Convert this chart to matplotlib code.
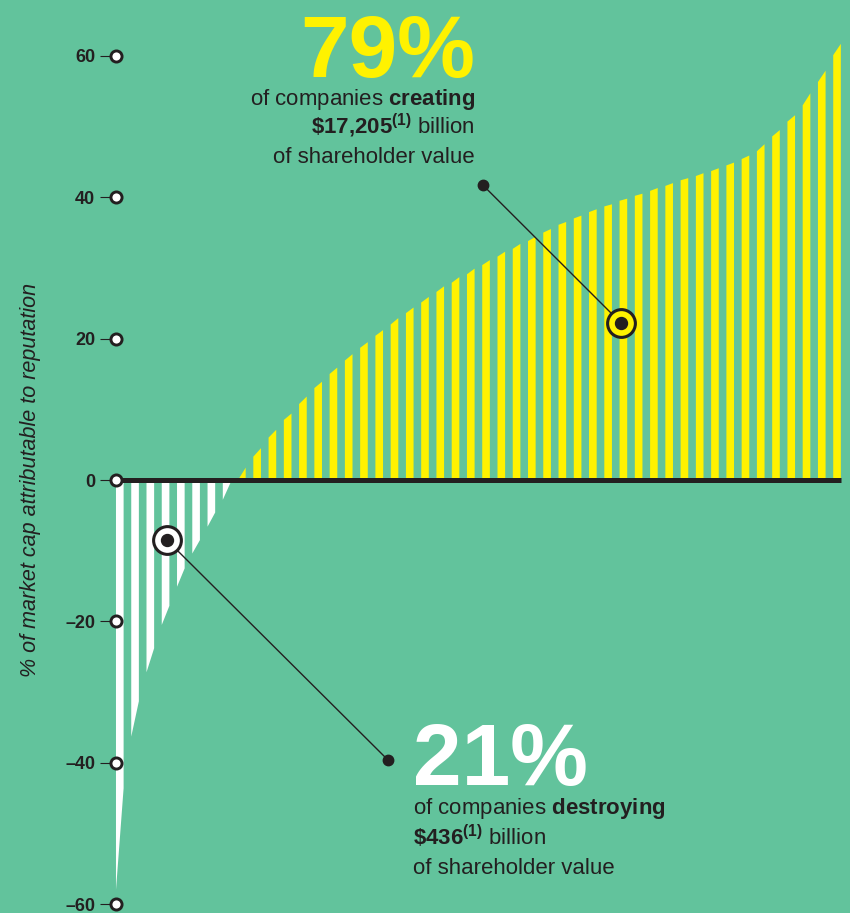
import matplotlib
matplotlib.use("Agg")
import matplotlib.pyplot as plt

plt.rcParams["font.family"] = ["Liberation Sans", "DejaVu Sans"]
plt.rcParams["mathtext.fontset"] = "custom"
plt.rcParams["mathtext.rm"] = "Liberation Sans"
plt.rcParams["mathtext.bf"] = "Liberation Sans:bold"
plt.rcParams["mathtext.it"] = "Liberation Sans:italic"

# ---- data ----
# companies destroying value: bar bottom at the left edge and at the right edge of each bar
neg_left = [-58.0, -36.3, -27.2, -20.5, -15.1, -10.4, -6.6, -2.8]
neg_right = [-43.6, -31.3, -23.8, -17.8, -12.5, -8.5, -4.6, -0.4]
# companies creating value: bar top at the left edge and at the right edge of each bar
pos_left = [0.0, 3.3, 6.0, 8.5, 10.75, 13.0, 15.0, 16.9, 18.7, 20.4,
            22.0, 23.6, 25.1, 26.6, 27.9, 29.1, 30.4, 31.6, 32.7, 33.8,
            35.0, 36.1, 37.0, 37.9, 38.7, 39.5, 40.2, 40.9, 41.6, 42.4,
            43.0, 43.7, 44.5, 45.4, 46.5, 48.6, 50.7, 53.0, 56.3, 60.1]
pos_right = [1.75, 4.5, 7.1, 9.4, 11.8, 13.9, 15.9, 17.8, 19.5, 21.2,
             22.9, 24.4, 25.9, 27.4, 28.7, 29.9, 31.1, 32.3, 33.4, 34.4,
             35.5, 36.5, 37.4, 38.3, 39.0, 39.8, 40.5, 41.3, 42.0, 42.7,
             43.4, 44.1, 44.9, 45.9, 47.5, 49.5, 51.6, 54.7, 57.9, 61.7]
y_ticks = [60, 40, 20, 0, -20, -40, -60]
y_tick_labels = ["60", "40", "20", "0", "\u201320", "\u201340", "\u201360"]
y_label = "% of market cap attributable to reputation"

creating_pct = "79%"
creating_lines = [r"of companies $\mathbf{creating}$",
                  r"$\mathbf{\$17{,}205^{(1)}}$ billion",
                  "of shareholder value"]
destroying_pct = "21%"
destroying_lines = [r"of companies $\mathbf{destroying}$",
                    r"$\mathbf{\$436^{(1)}}$ billion",
                    "of shareholder value"]

# ---- style ----
BG = "#62C39C"
YELLOW = "#FFF200"
DARK = "#231F20"
BAR_W = 0.5

fig = plt.figure(figsize=(8.5, 9.13), dpi=100, facecolor=BG)
ax = fig.add_axes([0, 0, 1, 1])
ax.set_facecolor(BG)
ax.set_xlim(-7.6, 48.1)
ax.set_ylim(-61.25, 67.9)

# bars with slanted ends
for i, (l, r) in enumerate(zip(neg_left, neg_right)):
    ax.fill([i, i, i + BAR_W, i + BAR_W], [0, l, r, 0], color="white", lw=0, zorder=2)
n_neg = len(neg_left)
for j, (l, r) in enumerate(zip(pos_left, pos_right)):
    x = n_neg + j
    ax.fill([x, x, x + BAR_W, x + BAR_W], [0, l, r, 0], color=YELLOW, lw=0, zorder=2)

# zero line
last_x = n_neg + len(pos_left) - 1 + BAR_W
ax.plot([0, last_x], [0, 0], color=DARK, lw=3.6, solid_capstyle="butt", zorder=3)

# y axis at x = 0
for s in ["top", "right", "bottom"]:
    ax.spines[s].set_visible(False)
ax.spines["left"].set_position(("data", 0))
ax.spines["left"].set_linewidth(0)
ax.set_xticks([])
ax.set_yticks(y_ticks, labels=y_tick_labels)
ax.tick_params(axis="y", direction="out", length=11.5, width=0.8, color=DARK,
               pad=3.6, labelsize=13, labelcolor=DARK)
for t in ax.get_yticklabels():
    t.set_fontweight("bold")
ax.plot([0] * len(y_ticks), y_ticks, "o", ls="none", ms=8.0, mfc="white",
        mec=DARK, mew=2.1, clip_on=False, zorder=5)

ax.set_ylabel(y_label, fontstyle="italic", fontsize=15.5, color=DARK)
ax.yaxis.set_label_coords(0.048, 0.474)

# callouts
def callout(dot, circ, fill):
    ax.plot([dot[0], circ[0]], [dot[1], circ[1]], color=DARK, lw=1.0, zorder=6)
    ax.plot(*dot, "o", ms=7.5, color=DARK, zorder=7)
    ax.plot(*circ, "o", ms=20, mfc=fill, mec=DARK, mew=2.2, zorder=7)
    ax.plot(*circ, "o", ms=8.6, color=DARK, zorder=8)

callout((24.05, 41.7), (33.1, 22.2), YELLOW)
callout((17.82, -39.6), (3.34, -8.5), "white")

# headline texts
ax.text(23.53, 57.0, creating_pct, color=YELLOW, fontsize=63, fontweight="bold",
        ha="right", va="baseline", zorder=9)
for line, yb in zip(creating_lines, [53.04, 48.94, 44.84]):
    ax.text(23.53, yb, line, color=DARK, fontsize=16, ha="right", va="baseline", zorder=9)

ax.text(19.46, -43.14, destroying_pct, color="white", fontsize=63, fontweight="bold",
        ha="left", va="baseline", zorder=9)
for line, yb in zip(destroying_lines, [-47.24, -51.63, -55.73]):
    ax.text(19.46, yb, line, color=DARK, fontsize=16, ha="left", va="baseline", zorder=9)

fig.savefig("out.png", dpi=100, facecolor=BG)
